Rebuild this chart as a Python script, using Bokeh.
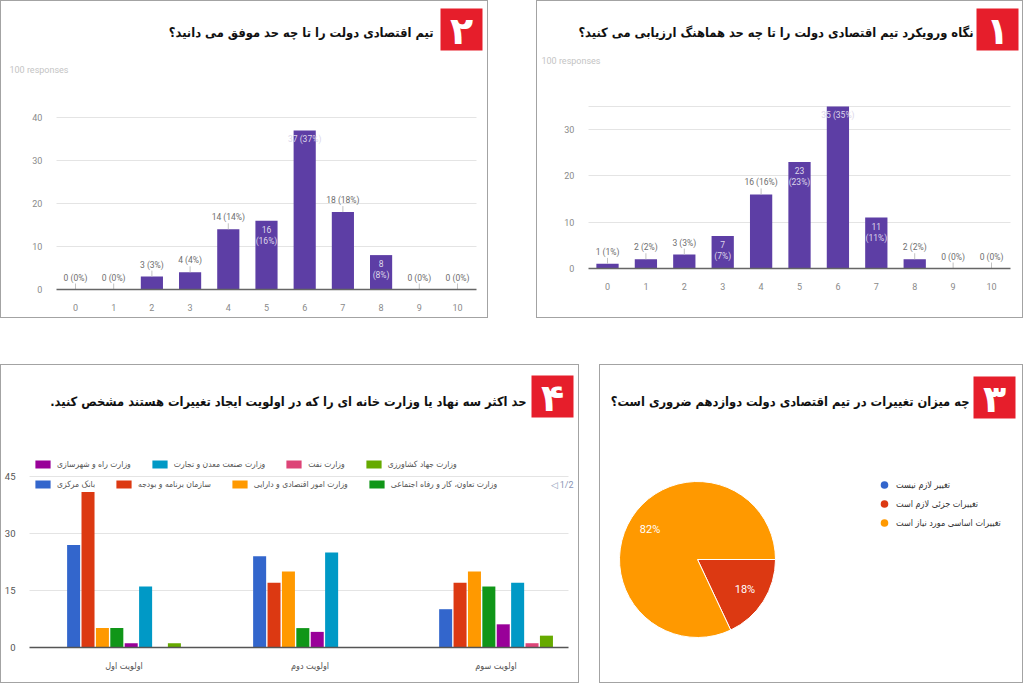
import numpy as np
from bokeh.plotting import figure
from bokeh.models import (Range1d, FixedTicker, ColumnDataSource, Label, BoxAnnotation,
                          Legend, LegendItem, Spacer)
from bokeh.layouts import row, column
from bokeh.core.properties import value
from bokeh.embed import file_html
from bokeh.resources import INLINE

FA = "DejaVu Sans Condensed, DejaVu Sans"
NUM = "Roboto"
RED_BOX = "#e61e2b"
PURPLE = "#5d3ea5"

# ---- data -------------------------------------------------------------
scores = list(range(11))
responses = 100

q1_title = "نگاه ورویکرد تیم اقتصادی دولت را تا چه حد هماهنگ ارزیابی می کنید؟"
q1_counts = [1, 2, 3, 7, 16, 23, 35, 11, 2, 0, 0]

q2_title = "تیم اقتصادی دولت را تا چه حد موفق می دانید؟"
q2_counts = [0, 0, 3, 4, 14, 16, 37, 18, 8, 0, 0]

q3_title = "چه میزان تغییرات در تیم اقتصادی دولت دوازدهم ضروری است؟"
q3_labels = ["تغییر لازم نیست", "تغییرات جزئی لازم است", "تغییرات اساسی مورد نیاز است"]
q3_share = [0, 18, 82]

q4_title = "حد اکثر سه نهاد یا وزارت خانه ای را که در اولویت ایجاد تغییرات هستند مشخص کنید.\u200f"
q4_priorities = ["اولویت اول", "اولویت دوم", "اولویت سوم"]
q4_bodies = ["بانک مرکزی", "سازمان برنامه و بودجه", "وزارت امور اقتصادی و دارایی",
             "وزارت تعاون، کار و رفاه اجتماعی", "وزارت راه و شهرسازی",
             "وزارت صنعت معدن و تجارت", "وزارت نفت", "وزارت جهاد کشاورزی"]
q4_counts = [
    [27, 24, 10],
    [41, 17, 17],
    [5, 20, 20],
    [5, 5, 16],
    [1, 4, 6],
    [16, 25, 17],
    [0, 0, 1],
    [1, 0, 3],
]

# label placement of the bar values: 0 above, 1 inside on one line, 2 inside on two lines
q1_place = [0, 0, 0, 2, 0, 2, 1, 2, 0, 0, 0]
q2_place = [0, 0, 0, 0, 0, 2, 1, 0, 2, 0, 0]

q3_colors = ["#3366cc", "#dc3912", "#ff9900"]
q4_colors = ["#3366cc", "#dc3912", "#ff9900", "#109618",
             "#990099", "#0099c6", "#dd4477", "#66aa00"]

BORDER = {"border": "1px solid #a3a3a3"}
TITLE_SIZE = "12.8px"


def base_figure(width, height, x_range, y_range, **kw):
    p = figure(width=width, height=height, x_range=x_range, y_range=y_range,
               output_backend="svg", toolbar_location=None, tools="", min_border=0, **kw)
    p.styles = BORDER
    p.outline_line_color = None
    return p


def add_header(p, text, num, box, num_xy, title_xy, units="screen"):
    l, r, b, t = box
    p.add_layout(BoxAnnotation(left=l, right=r, bottom=b, top=t,
                               left_units=units, right_units=units,
                               bottom_units=units, top_units=units,
                               fill_color=RED_BOX, fill_alpha=1, line_color=None))
    p.add_layout(Label(x=num_xy[0], y=num_xy[1], x_units=units, y_units=units, text=num,
                       text_color="white", text_font="DejaVu Sans", text_font_size="38px",
                       text_font_style="bold", text_align="center", text_baseline="middle"))
    p.add_layout(Label(x=title_xy[0], y=title_xy[1], x_units=units, y_units=units, text=text,
                       text_color="#111111", text_font=FA, text_font_size=TITLE_SIZE,
                       text_font_style="bold", text_align="right", text_baseline="middle"))


def style_axes(p, lo, hi, y_ticks, x_ticks, grid_ticks, label_color):
    p.xgrid.grid_line_color = None
    g = p.ygrid[0]
    g.ticker = FixedTicker(ticks=grid_ticks)
    if "cross_bounds" in g.properties():
        g.grid_line_color = "#e4e4e4"
        g.cross_bounds = (lo, hi)
    else:
        g.grid_line_color = None
        p.segment(x0=lo, x1=hi, y0=grid_ticks, y1=grid_ticks, line_color="#e4e4e4")
    p.yaxis.ticker = FixedTicker(ticks=y_ticks)
    p.xaxis.ticker = FixedTicker(ticks=x_ticks)
    p.xaxis.fixed_location = 0
    p.xaxis.bounds = (lo, hi)
    p.yaxis.fixed_location = lo
    p.yaxis.axis_line_color = None
    p.xaxis.axis_line_color = "#666666"
    p.xaxis.axis_line_width = 1.5
    for ax in (p.xaxis, p.yaxis):
        ax.major_tick_line_color = None
        ax.minor_tick_line_color = None
        ax.major_label_text_color = label_color
        ax.major_label_text_font = NUM
        ax.major_label_text_font_size = "9px"
        ax.major_label_standoff = 8


def bar_figure(counts, place, width, x_range, y_range, y_ticks, grid_ticks):
    height = 318
    p = base_figure(width, height, x_range, y_range)
    style_axes(p, -0.5, 10.5, y_ticks, scores, grid_ticks, "#8a8a8a")

    p.vbar(x=scores, top=counts, width=0.58, fill_color=PURPLE, line_color=None)

    pct = [round(100 * c / responses) for c in counts]
    above = dict(x=[], y=[], t=[])
    inside = dict(x=[], y=[], t=[])
    for s, c, q, m in zip(scores, counts, pct, place):
        if m == 0:
            above["x"].append(s); above["y"].append(c); above["t"].append(f"{c} ({q}%)")
        else:
            sep = " " if m == 1 else "\n"
            inside["x"].append(s); inside["y"].append(c); inside["t"].append(f"{c}{sep}({q}%)")

    # short leader stems between the bar tops and the labels above them
    per_px = (y_range.end - y_range.start) / height
    p.segment(x0=above["x"], x1=above["x"], y0=above["y"],
              y1=[v + 6 * per_px for v in above["y"]], line_color="#c2c2c2", line_width=1)
    p.text(x="x", y="y", text="t", source=ColumnDataSource(above), text_align="center",
           text_baseline="bottom", y_offset=-7, text_font=value(NUM), text_font_size="8.5px",
           text_color="#6e6e6e")
    p.text(x="x", y="y", text="t", source=ColumnDataSource(inside), text_align="center",
           text_baseline="top", y_offset=4, text_font=value(NUM), text_font_size="8.5px",
           text_color="#ddd8ea", text_line_height=1.1)
    return p


def responses_label(p, x, y):
    p.add_layout(Label(x=x, y=y, x_units="screen", y_units="screen", text=f"{responses} responses",
                       text_color="#c4c4c4", text_font=NUM, text_font_size="9px",
                       text_baseline="middle"))


# ---- panel 2 (top left) ----------------------------------------------
p2 = bar_figure(q2_counts, q2_place, 488, Range1d(-1.937, 10.838), Range1d(-6.977, 66.98),
                [0, 10, 20, 30, 40], [10, 20, 30, 40])
add_header(p2, q2_title, "۲", (439, 481, 269, 311), (460, 289), (432, 287))
responses_label(p2, 8, 250)

# ---- panel 1 (top right) ---------------------------------------------
p1 = bar_figure(q1_counts, q1_place, 487, Range1d(-1.823, 10.859), Range1d(-11.015, 57.67),
                [0, 10, 20, 30], [10, 20, 30, 35])
add_header(p1, q1_title, "۱", (439, 481, 269, 311), (460, 289), (436, 287))
responses_label(p1, 4, 259)

# ---- panel 4 (bottom left) -------------------------------------------
p4 = base_figure(579, 319, Range1d(-0.6586, 2.454), Range1d(-9.92, 74.47))
style_axes(p4, -0.508, 2.39, [0, 15, 30, 45], list(range(len(q4_priorities))),
           [15, 30, 45], "#555555")
p4.xaxis.major_label_overrides = {i: name for i, name in enumerate(q4_priorities)}
p4.xaxis.major_label_text_font = FA
p4.yaxis.major_label_text_font_size = "9.5px"
p4.xaxis.axis_line_color = "#555555"

step = 0.0774
group_x = np.arange(len(q4_priorities))
bar_renderers = []
for i, (body, counts, col) in enumerate(zip(q4_bodies, q4_counts, q4_colors)):
    r = p4.vbar(x=group_x + (i - (len(q4_bodies) - 1) / 2) * step, top=counts, width=0.07,
                fill_color=col, line_color=None)
    bar_renderers.append(r)


def legend_row(idx, loc):
    lg = Legend(items=[LegendItem(label=q4_bodies[i], renderers=[bar_renderers[i]]) for i in idx],
                location=loc, orientation="horizontal", glyph_width=19, glyph_height=10,
                label_height=10, label_standoff=5, spacing=19, padding=0, margin=0,
                border_line_color=None, background_fill_alpha=0,
                label_text_font=FA, label_text_font_size="8.5px", label_text_color="#555555")
    p4.add_layout(lg)


legend_row([4, 5, 6, 7], (32, 215))
legend_row([0, 1, 2, 3], (32, 195))
p4.add_layout(Label(x=549, y=200, x_units="screen", y_units="screen", text="◁ 1/2",
                    text_color="#8a94b5", text_font=NUM, text_font_size="9px",
                    text_baseline="middle"))
add_header(p4, q4_title, "۴", (530, 572, 267, 309), (551, 287), (525, 283))

# ---- panel 3 (bottom right) ------------------------------------------
p3 = base_figure(424, 319, Range1d(0, 424), Range1d(0, 319),
                 x_axis_type=None, y_axis_type=None)
p3.grid.visible = False

cx, cy, rad = 97, 125, 78
share = np.array(q3_share, dtype=float)
ends = -2 * np.pi * np.cumsum(share) / share.sum()
starts = np.concatenate([[0.0], ends[:-1]])
keep = share > 0
pie_src = ColumnDataSource(dict(start=starts[keep], end=ends[keep],
                                color=np.array(q3_colors)[keep]))
p3.wedge(x=cx, y=cy, radius=rad, start_angle="start", end_angle="end", direction="clock",
         fill_color="color", line_color="white", line_width=1, source=pie_src)
mid = (starts + ends) / 2
lab_src = ColumnDataSource(dict(x=(cx + 0.72 * rad * np.cos(mid))[keep],
                                y=(cy + 0.72 * rad * np.sin(mid))[keep],
                                t=[f"{int(s)}%" for s in share[keep]]))
p3.text(x="x", y="y", text="t", source=lab_src, text_align="center", text_baseline="middle",
        text_font=value(NUM), text_font_size="11px", text_color="white")

leg_src = ColumnDataSource(dict(label=q3_labels, color=q3_colors))
dots = p3.scatter(x=0, y=0, size=10, fill_color="color", line_color=None, source=leg_src,
                  visible=False)
pie_legend = Legend(items=[LegendItem(label=q3_labels[i], renderers=[dots], index=i)
                           for i in range(len(q3_labels))],
                    location=(274, 152), glyph_width=20, glyph_height=19, label_height=19,
                    spacing=0, padding=0, margin=0, label_standoff=2,
                    border_line_color=None, background_fill_alpha=0, inactive_fill_alpha=0,
                    label_text_font=FA, label_text_font_size="9px", label_text_color="#333333")
p3.add_layout(pie_legend)
add_header(p3, q3_title, "۳", (373, 415, 266, 308), (394, 286), (369, 283), units="data")

page = column(row(p2, Spacer(width=48), p1), Spacer(height=46), row(p4, Spacer(width=20), p3))

open("out.html", "w").write(file_html(page, INLINE))
